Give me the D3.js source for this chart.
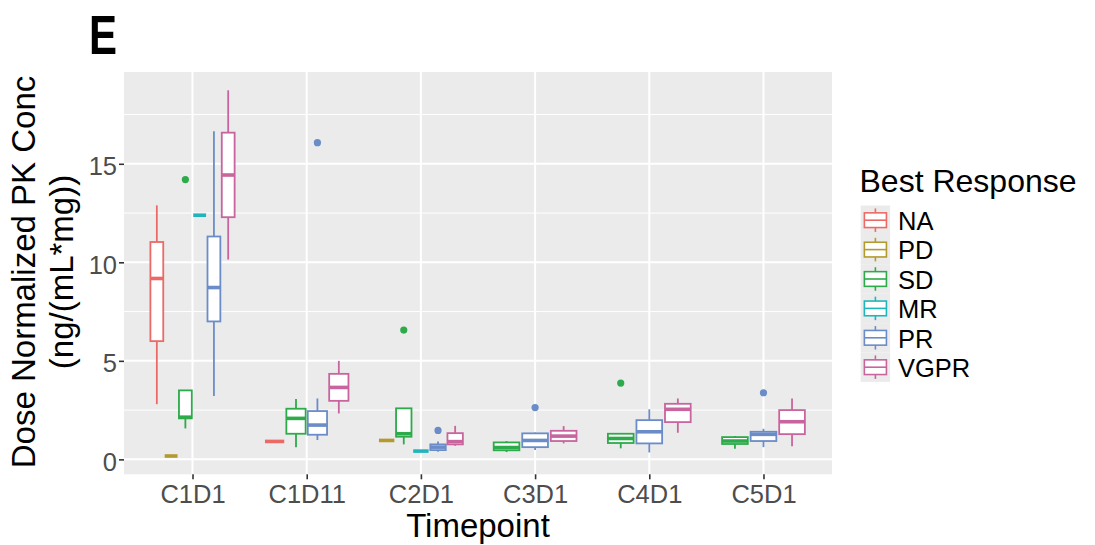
<!DOCTYPE html>
<html>
<head>
<meta charset="utf-8">
<script src="https://cdn.jsdelivr.net/npm/d3@7"></script>
<style>
  body { margin: 0; background: #fff; }
  text { font-family: "Liberation Sans", Arial, Helvetica, sans-serif; }
</style>
</head>
<body>
<svg id="chart" width="1095" height="545"></svg>
<script>
const timepoints = ["C1D1", "C1D11", "C2D1", "C3D1", "C4D1", "C5D1"];
const responses = ["NA", "PD", "SD", "MR", "PR", "VGPR"];
const responseColors = ["#EC6A66", "#B39A2E", "#2DAA4A", "#20B5BC", "#6A8CC8", "#C8649E"];

// [timepoint, lower whisker, Q1, median, Q3, upper whisker]
const statsNA = [
    ["C1D1", 2.80, 6.00, 9.18, 11.03, 12.89],
    ["C1D11", 0.91, 0.91, 0.91, 0.91, 0.91]
];
const statsPD = [
    ["C1D1", 0.17, 0.17, 0.17, 0.17, 0.17],
    ["C2D1", 0.96, 0.96, 0.96, 0.96, 0.96]
];
const statsSD = [
    ["C1D1", 1.57, 2.08, 2.14, 3.50, 3.50],
    ["C1D11", 0.61, 1.30, 2.08, 2.57, 3.06],
    ["C2D1", 0.76, 1.15, 1.30, 2.59, 2.59],
    ["C3D1", 0.37, 0.46, 0.60, 0.86, 0.93],
    ["C4D1", 0.56, 0.83, 1.06, 1.30, 1.30],
    ["C5D1", 0.54, 0.78, 0.93, 1.13, 1.18]
];
const statsMR = [
    ["C1D1", 12.39, 12.39, 12.39, 12.39, 12.39],
    ["C2D1", 0.42, 0.42, 0.42, 0.42, 0.42]
];
const statsPR = [
    ["C1D1", 3.21, 7.00, 8.72, 11.31, 16.65],
    ["C1D11", 0.98, 1.25, 1.74, 2.45, 3.09],
    ["C2D1", 0.39, 0.47, 0.62, 0.76, 0.91],
    ["C3D1", 0.47, 0.62, 0.96, 1.32, 1.36],
    ["C4D1", 0.35, 0.81, 1.40, 1.99, 2.54],
    ["C5D1", 0.62, 0.93, 1.27, 1.40, 1.55]
];
const statsVGPR = [
    ["C1D1", 10.14, 12.29, 14.43, 16.58, 18.73],
    ["C1D11", 2.33, 2.97, 3.65, 4.34, 5.00],
    ["C2D1", 0.69, 0.76, 0.90, 1.33, 1.70],
    ["C3D1", 0.81, 0.93, 1.18, 1.45, 1.69],
    ["C4D1", 1.35, 1.89, 2.54, 2.82, 3.09],
    ["C5D1", 0.67, 1.28, 1.91, 2.50, 3.09]
];
// [timepoint, response, value]
const outlierPoints = [
    ["C1D1", "SD", 14.2],
    ["C1D11", "PR", 16.07],
    ["C2D1", "SD", 6.56],
    ["C2D1", "PR", 1.47],
    ["C3D1", "PR", 2.63],
    ["C4D1", "SD", 3.87],
    ["C5D1", "PR", 3.38]
];
const yTicks = [0, 5, 10, 15];
const yMinorTicks = [2.5, 7.5, 12.5, 17.5];

const statsByResponse = [statsNA, statsPD, statsSD, statsMR, statsPR, statsVGPR];

const panel = { left: 124, right: 832, top: 72, bottom: 474.3 };
const svg = d3.select("#chart");

// flatten boxes
let boxes = [];
responses.forEach((r, i) => {
    statsByResponse[i].forEach(s => {
        boxes.push({ tp: s[0], resp: r, color: responseColors[i],
                     lo: s[1], q1: s[2], med: s[3], q3: s[4], hi: s[5] });
    });
});

let allVals = boxes.flatMap(b => [b.lo, b.hi]).concat(outlierPoints.map(o => o[2]));
let yExt = d3.extent(allVals);
let yPad = (yExt[1] - yExt[0]) * 0.05;

let x_scale = d3.scalePoint()
    .domain(timepoints)
    .range([panel.left, panel.right])
    .padding(0.6);
let step = x_scale.step();

let y_scale = d3.scaleLinear()
    .domain([yExt[0] - yPad, yExt[1] + yPad])
    .range([panel.bottom, panel.top]);

// dodge positions: split 0.75 of the step among groups present at each timepoint
function dodgeX(tp, resp) {
    let present = responses.filter(r => boxes.some(b => b.tp === tp && b.resp === r));
    let slot = step * 0.75 / present.length;
    let j = present.indexOf(resp);
    return { cx: x_scale(tp) - step * 0.375 + slot * (j + 0.5), w: slot * 0.9 };
}
boxes.forEach(b => Object.assign(b, dodgeX(b.tp, b.resp)));

// panel background and grid
svg.append("rect")
    .attr("x", panel.left).attr("y", panel.top)
    .attr("width", panel.right - panel.left)
    .attr("height", panel.bottom - panel.top)
    .attr("fill", "#EBEBEB");

svg.append("g").selectAll("line")
    .data(yMinorTicks)
    .join("line")
    .attr("x1", panel.left).attr("x2", panel.right)
    .attr("y1", d => y_scale(d)).attr("y2", d => y_scale(d))
    .attr("stroke", "#fff").attr("stroke-width", 1);

svg.append("g").selectAll("line")
    .data(yTicks)
    .join("line")
    .attr("x1", panel.left).attr("x2", panel.right)
    .attr("y1", d => y_scale(d)).attr("y2", d => y_scale(d))
    .attr("stroke", "#fff").attr("stroke-width", 2);

svg.append("g").selectAll("line")
    .data(timepoints)
    .join("line")
    .attr("x1", d => x_scale(d)).attr("x2", d => x_scale(d))
    .attr("y1", panel.top).attr("y2", panel.bottom)
    .attr("stroke", "#fff").attr("stroke-width", 2);

// boxplots
let boxG = svg.append("g").selectAll("g")
    .data(boxes)
    .join("g");

boxG.append("line")
    .attr("x1", d => d.cx).attr("x2", d => d.cx)
    .attr("y1", d => y_scale(d.hi)).attr("y2", d => y_scale(d.q3))
    .attr("stroke", d => d.color).attr("stroke-width", 1.8);
boxG.append("line")
    .attr("x1", d => d.cx).attr("x2", d => d.cx)
    .attr("y1", d => y_scale(d.q1)).attr("y2", d => y_scale(d.lo))
    .attr("stroke", d => d.color).attr("stroke-width", 1.8);
boxG.filter(d => d.q3 > d.q1).append("rect")
    .attr("x", d => d.cx - d.w / 2)
    .attr("y", d => y_scale(d.q3))
    .attr("width", d => d.w)
    .attr("height", d => y_scale(d.q1) - y_scale(d.q3))
    .attr("fill", "#fff")
    .attr("stroke", d => d.color).attr("stroke-width", 1.8);
boxG.append("line")
    .attr("x1", d => d.cx - d.w / 2).attr("x2", d => d.cx + d.w / 2)
    .attr("y1", d => y_scale(d.med)).attr("y2", d => y_scale(d.med))
    .attr("stroke", d => d.color).attr("stroke-width", 3.6);

svg.append("g").selectAll("circle")
    .data(outlierPoints)
    .join("circle")
    .attr("cx", d => dodgeX(d[0], d[1]).cx)
    .attr("cy", d => y_scale(d[2]))
    .attr("r", 3.6)
    .attr("fill", d => responseColors[responses.indexOf(d[1])]);

// axes
let y_axis = d3.axisLeft(y_scale).tickValues(yTicks).tickSize(5).tickPadding(2);
let y_axis_group = svg.append("g")
    .attr("transform", `translate(${panel.left},0)`)
    .call(y_axis);

let x_axis = d3.axisBottom(x_scale).tickSize(5).tickPadding(6);
let x_axis_group = svg.append("g")
    .attr("transform", `translate(0,${panel.bottom})`)
    .call(x_axis);

[y_axis_group, x_axis_group].forEach(g => {
    g.select(".domain").remove();
    g.selectAll(".tick line").attr("stroke", "#333").attr("stroke-width", 1.6);
    g.selectAll(".tick text")
        .attr("fill", "#4D4D4D")
        .style("font-size", "25.5px")
        .style("font-family", "'Liberation Sans', Arial, sans-serif");
});
y_axis_group.selectAll(".tick text").attr("dy", "0.42em");

// titles
svg.append("text")
    .attr("x", 478).attr("y", 537)
    .attr("text-anchor", "middle")
    .style("font-size", "33px")
    .text("Timepoint");

let yTitle = svg.append("g").attr("transform", "translate(0,272) rotate(-90)");
yTitle.append("text")
    .attr("x", 0).attr("y", 35)
    .attr("text-anchor", "middle")
    .style("font-size", "33px")
    .text("Dose Normalized PK Conc");
yTitle.append("text")
    .attr("x", 0).attr("y", 73)
    .attr("text-anchor", "middle")
    .style("font-size", "33px")
    .text("(ng/(mL*mg))");

svg.append("text")
    .attr("x", 89).attr("y", 54)
    .attr("textLength", 28)
    .attr("lengthAdjust", "spacingAndGlyphs")
    .style("font-size", "55px")
    .style("font-weight", "bold")
    .text("E");

// legend
let legendTop = 205.5, keySize = 29.4, keyX = 860.7;
svg.append("text")
    .attr("x", 859.5).attr("y", 191.7)
    .style("font-size", "32px")
    .text("Best Response");

let legendRow = svg.append("g").selectAll("g")
    .data(responses)
    .join("g")
    .attr("transform", (d, i) => `translate(${keyX},${legendTop + i * keySize})`);

legendRow.append("rect")
    .attr("width", keySize).attr("height", keySize)
    .attr("fill", "#EBEBEB");
legendRow.append("line")
    .attr("x1", keySize / 2).attr("x2", keySize / 2)
    .attr("y1", keySize * 0.1).attr("y2", keySize * 0.9)
    .attr("stroke", (d, i) => responseColors[i]).attr("stroke-width", 1.6);
legendRow.append("rect")
    .attr("x", keySize * 0.125).attr("y", keySize * 0.25)
    .attr("width", keySize * 0.75).attr("height", keySize * 0.5)
    .attr("fill", "#fff")
    .attr("stroke", (d, i) => responseColors[i]).attr("stroke-width", 1.6);
legendRow.append("line")
    .attr("x1", keySize * 0.125).attr("x2", keySize * 0.875)
    .attr("y1", keySize / 2).attr("y2", keySize / 2)
    .attr("stroke", (d, i) => responseColors[i]).attr("stroke-width", 1.6);
legendRow.append("text")
    .attr("x", 898 - keyX).attr("y", 24.5)
    .style("font-size", "25.5px")
    .text(d => d);
</script>
</body>
</html>
